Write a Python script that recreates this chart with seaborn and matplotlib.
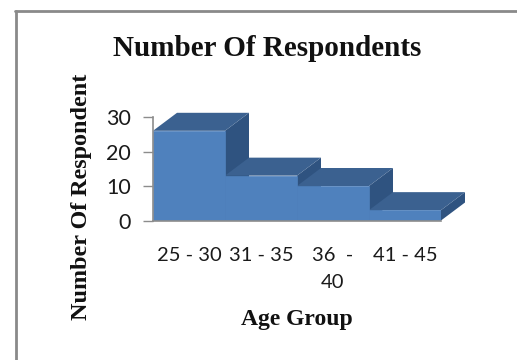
import matplotlib
matplotlib.use("Agg")
import matplotlib.pyplot as plt
from matplotlib.lines import Line2D
from matplotlib.patches import Polygon
import pandas as pd
import seaborn as sns

# Data
age_groups = ["25 - 30", "31 - 35", "36  -\n40", "41 - 45"]
respondents = [26, 13, 10, 3]
y_ticks = [0, 10, 20, 30]

# Colours
FRONT = "#4F81BD"
TOP = "#3B6190"
SIDE = "#2F5380"
AXIS = "#8C8C8C"
W, H = 517, 360

sns.set_theme(style="white")
plt.rcParams["font.family"] = ["Lato", "DejaVu Sans"]

fig = plt.figure(figsize=(W / 100, H / 100), dpi=100, facecolor="white")
ax = fig.add_axes([153 / W, 1 - 220.5 / H, 288 / W, 103.5 / H])

df = pd.DataFrame({"age": age_groups, "count": respondents})
sns.barplot(data=df, x="age", y="count", color=FRONT, saturation=1, width=1,
            edgecolor=FRONT, linewidth=0.5, zorder=5, ax=ax)

# Fake 3d depth, back faces drawn left to right
dx = 24 / 72
dy = 18 / 3.45
for i, v in enumerate(respondents):
    l, r = i - 0.5, i + 0.5
    ax.add_patch(Polygon([(r, 0), (r, v), (r + dx, v + dy), (r + dx, dy)],
                         fc=SIDE, ec="none", clip_on=False, zorder=2 + i * 0.1))
    ax.add_patch(Polygon([(l, v), (r, v), (r + dx, v + dy), (l + dx, v + dy)],
                         fc=TOP, ec="none", clip_on=False, zorder=2 + i * 0.1))

ax.set_xlim(-0.5, 3.5)
ax.set_ylim(0, 30)
ax.set_yticks(y_ticks)
ax.tick_params(axis="y", length=7, width=1, color=AXIS, pad=9, labelsize=15.5,
               labelcolor="#1A1A1A", left=True)
ax.tick_params(axis="x", length=0, pad=19, labelsize=14.5, labelcolor="#1A1A1A")
for lab in ax.get_xticklabels():
    lab.set_linespacing(1.7)

for s in ["top", "right"]:
    ax.spines[s].set_visible(False)
for s in ["left", "bottom"]:
    ax.spines[s].set_color(AXIS)
    ax.spines[s].set_linewidth(1.2)
    ax.spines[s].set_zorder(6)

serif = dict(family="Liberation Serif", fontweight="bold", color="#111111")
ax.set_xlabel("Age Group", fontsize=17, **serif)
ax.xaxis.set_label_coords((297 - 153) / 288, (220.5 - 320) / 103.5, ax.transAxes)
ax.xaxis.label.set_va("center")
ax.set_ylabel("Number Of Respondent", fontsize=17.4, **serif)
ax.yaxis.set_label_coords((81 - 153) / 288, (220.5 - 197) / 103.5, ax.transAxes)
ax.yaxis.label.set_va("center")
fig.text(267.5 / W, 1 - 49 / H, "Number Of Respondents", fontsize=21,
         ha="center", va="center", **serif)

# Chart frame, cut off by the image edge
frame = "#8A8A8A"
fig.add_artist(Line2D([15.5 / W, 15.5 / W], [0, 1 - 11 / H], color=frame, lw=2))
fig.add_artist(Line2D([15 / W, 1], [1 - 11 / H, 1 - 11 / H], color=frame, lw=2))

fig.savefig("out.png", dpi=100, facecolor="white")
